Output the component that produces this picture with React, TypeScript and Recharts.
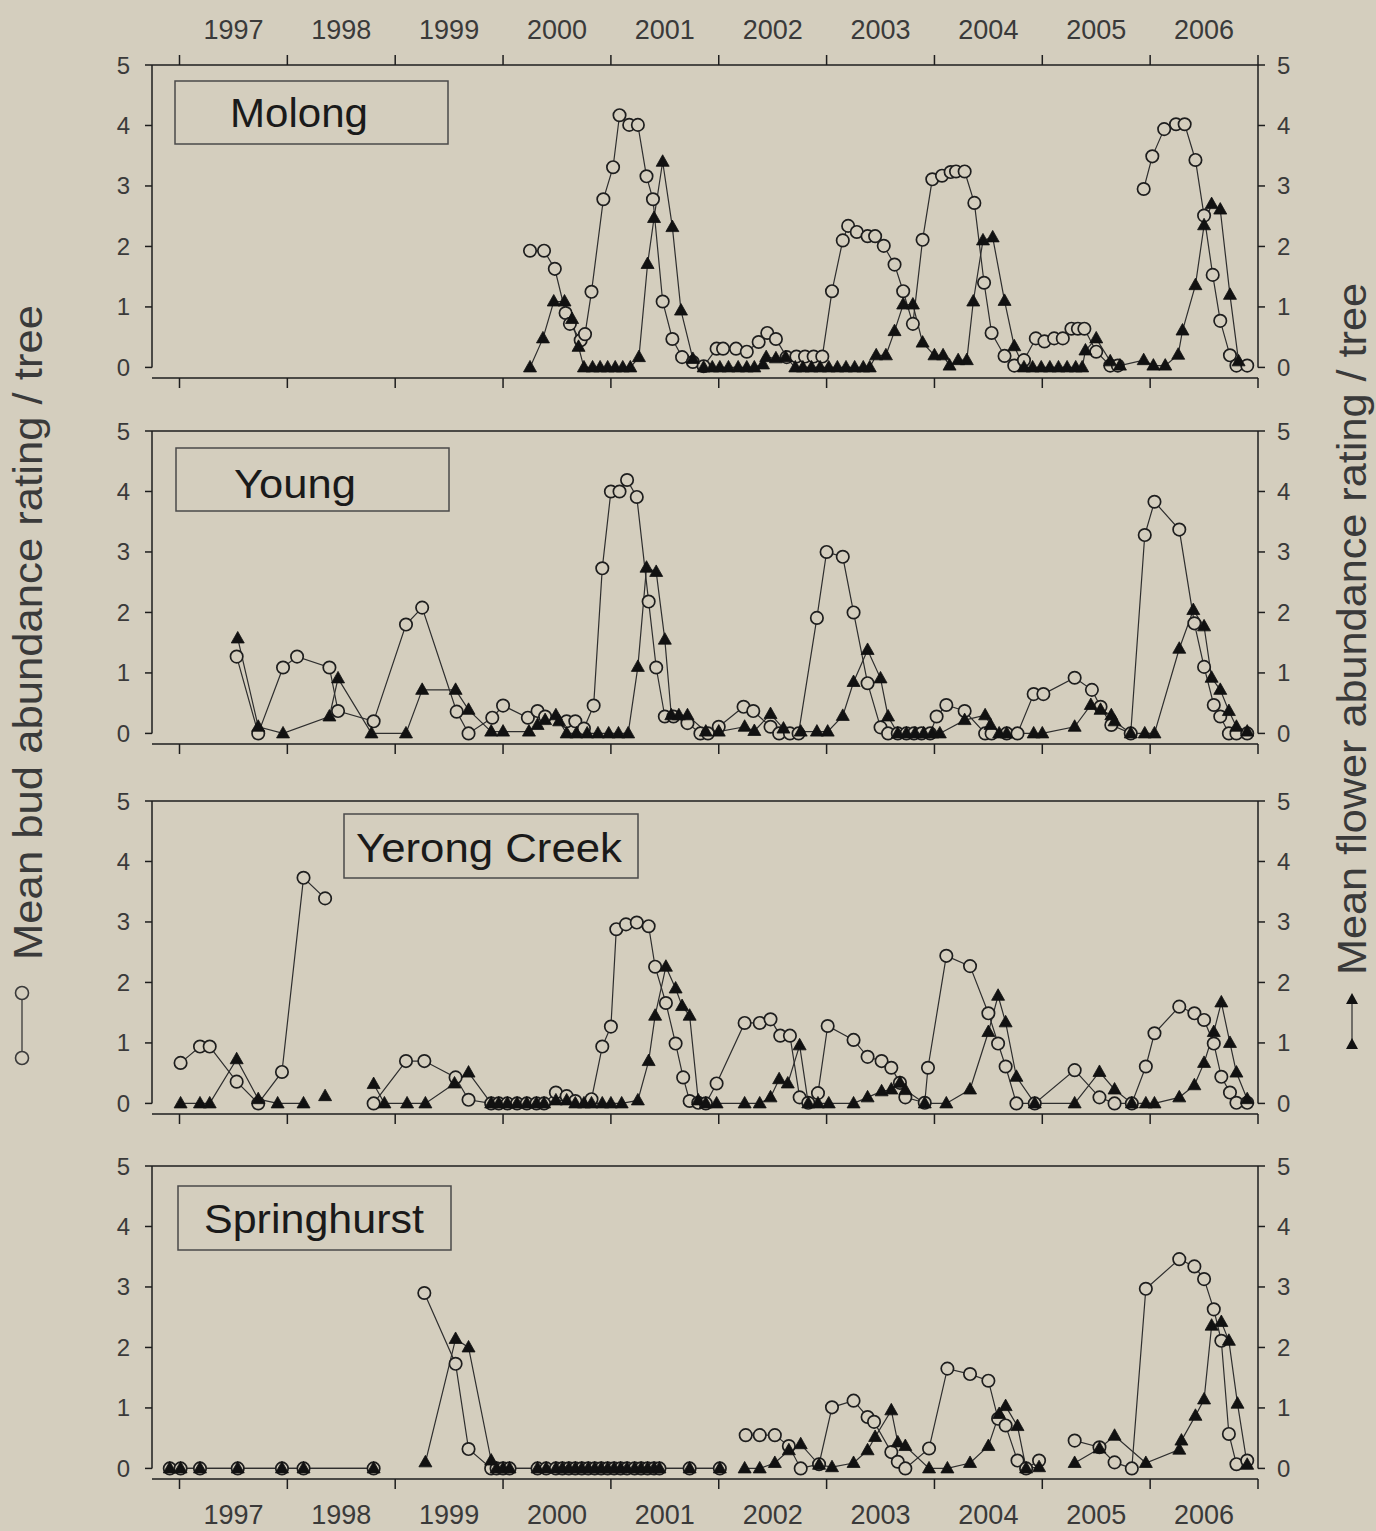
import React from 'react';
import { LineChart, Line, XAxis, YAxis, ReferenceLine } from 'recharts';

type Pt = [number, number | null];

// ---------- data (decimal year, mean rating); null = break in the line ----------
const YEAR_TICKS = [1997, 1998, 1999, 2000, 2001, 2002, 2003, 2004, 2005, 2006, 2007];
const Y_TICKS = [0, 1, 2, 3, 4, 5];
const SITE_NAMES = ['Molong', 'Young', 'Yerong Creek', 'Springhurst'];
const LEFT_TITLE = 'Mean bud abundance rating / tree';
const RIGHT_TITLE = 'Mean flower abundance rating / tree';

const molongBuds: Pt[] = [
  [2000.25, 1.93], [2000.38, 1.93], [2000.48, 1.63], [2000.58, 0.9], [2000.62, 0.72], [2000.72, 0.45], [2000.76, 0.55],
  [2000.82, 1.25], [2000.93, 2.78], [2001.02, 3.31], [2001.08, 4.17], [2001.17, 4.01], [2001.25, 4.01], [2001.33, 3.16],
  [2001.39, 2.78], [2001.48, 1.09], [2001.57, 0.47], [2001.66, 0.17], [2001.76, 0.09], [2001.86, 0.02], [2001.98, 0.31],
  [2002.04, 0.31], [2002.16, 0.31], [2002.26, 0.26], [2002.37, 0.42], [2002.45, 0.57], [2002.53, 0.47], [2002.63, 0.17],
  [2002.72, 0.18], [2002.80, 0.18], [2002.88, 0.18], [2002.96, 0.18], [2003.05, 1.26], [2003.15, 2.10], [2003.20, 2.34],
  [2003.28, 2.24], [2003.38, 2.17], [2003.45, 2.17], [2003.53, 2.01], [2003.63, 1.70], [2003.71, 1.26], [2003.80, 0.72],
  [2003.89, 2.11], [2003.98, 3.11], [2004.07, 3.17], [2004.15, 3.23], [2004.20, 3.24], [2004.28, 3.24], [2004.37, 2.72],
  [2004.46, 1.40], [2004.53, 0.57], [2004.65, 0.19], [2004.74, 0.03], [2004.83, 0.12], [2004.94, 0.48], [2005.02, 0.43],
  [2005.11, 0.48], [2005.19, 0.48], [2005.27, 0.64], [2005.33, 0.64], [2005.39, 0.64], [2005.50, 0.26], [2005.63, 0.03],
  [2005.70, 0.03], [2005.82, null], [2005.94, 2.95], [2006.02, 3.49], [2006.13, 3.94], [2006.24, 4.02], [2006.32, 4.02],
  [2006.42, 3.43], [2006.50, 2.51], [2006.58, 1.53], [2006.65, 0.77], [2006.74, 0.20], [2006.80, 0.03], [2006.90, 0.03],
];

const molongFlowers: Pt[] = [
  [2000.25, 0], [2000.37, 0.48], [2000.47, 1.09], [2000.57, 1.09], [2000.64, 0.8], [2000.70, 0.34], [2000.75, 0],
  [2000.83, 0], [2000.90, 0], [2000.97, 0], [2001.04, 0], [2001.11, 0], [2001.18, 0], [2001.26, 0.17], [2001.34, 1.71],
  [2001.40, 2.47], [2001.48, 3.40], [2001.57, 2.32], [2001.65, 0.94], [2001.76, 0.14], [2001.86, 0], [2001.94, 0],
  [2002.01, 0], [2002.09, 0], [2002.18, 0], [2002.26, 0], [2002.33, 0], [2002.41, 0.05], [2002.44, 0.17], [2002.53, 0.15],
  [2002.62, 0.17], [2002.71, 0], [2002.78, 0], [2002.86, 0], [2002.94, 0], [2003.02, 0], [2003.10, 0], [2003.18, 0],
  [2003.26, 0], [2003.34, 0], [2003.40, 0], [2003.46, 0.2], [2003.55, 0.2], [2003.63, 0.6], [2003.71, 1.04], [2003.80, 1.04],
  [2003.89, 0.41], [2004.00, 0.2], [2004.08, 0.2], [2004.14, 0.03], [2004.22, 0.12], [2004.30, 0.12], [2004.36, 1.09],
  [2004.45, 2.10], [2004.54, 2.15], [2004.65, 1.10], [2004.74, 0.35], [2004.83, 0], [2004.91, 0], [2004.99, 0], [2005.07, 0],
  [2005.15, 0], [2005.23, 0], [2005.31, 0], [2005.37, 0], [2005.40, 0.28], [2005.50, 0.48], [2005.63, 0.10], [2005.72, 0.03],
  [2005.94, 0.12], [2006.03, 0.03], [2006.14, 0.03], [2006.26, 0.21], [2006.30, 0.61], [2006.42, 1.36], [2006.50, 2.35],
  [2006.57, 2.70], [2006.65, 2.61], [2006.74, 1.20], [2006.82, 0.1],
];

const youngBuds: Pt[] = [
  [1997.53, 1.27], [1997.73, 0], [1997.96, 1.09], [1998.09, 1.27], [1998.39, 1.09], [1998.47, 0.37], [1998.80, 0.2],
  [1999.10, 1.8], [1999.25, 2.08], [1999.57, 0.36], [1999.68, 0], [1999.90, 0.26], [2000.00, 0.46], [2000.23, 0.26],
  [2000.32, 0.37], [2000.39, 0.28], [2000.59, 0.2], [2000.67, 0.2], [2000.75, 0.08], [2000.84, 0.46], [2000.92, 2.73],
  [2001.00, 4.0], [2001.08, 4.0], [2001.15, 4.19], [2001.24, 3.91], [2001.35, 2.18], [2001.42, 1.09], [2001.50, 0.28],
  [2001.58, 0.28], [2001.71, 0.17], [2001.83, 0], [2001.90, 0], [2002.00, 0.11], [2002.23, 0.44], [2002.32, 0.37],
  [2002.48, 0.11], [2002.56, 0], [2002.66, 0], [2002.74, 0], [2002.91, 1.91], [2003.00, 3.0], [2003.15, 2.92], [2003.25, 2.0],
  [2003.38, 0.83], [2003.50, 0.1], [2003.57, 0], [2003.66, 0], [2003.74, 0], [2003.81, 0], [2003.88, 0], [2003.96, 0],
  [2004.02, 0.28], [2004.11, 0.47], [2004.28, 0.37], [2004.47, 0], [2004.53, 0], [2004.67, 0], [2004.77, 0], [2004.92, 0.65],
  [2005.01, 0.65], [2005.30, 0.92], [2005.46, 0.72], [2005.54, 0.44], [2005.64, 0.14], [2005.82, 0], [2005.95, 3.28],
  [2006.04, 3.83], [2006.27, 3.37], [2006.41, 1.82], [2006.50, 1.10], [2006.59, 0.47], [2006.65, 0.28], [2006.73, 0],
  [2006.80, 0], [2006.90, 0],
];

const youngFlowers: Pt[] = [
  [1997.54, 1.57], [1997.73, 0.11], [1997.96, 0], [1998.39, 0.28], [1998.47, 0.91], [1998.78, 0], [1999.10, 0],
  [1999.25, 0.72], [1999.56, 0.72], [1999.68, 0.39], [1999.89, 0.03], [2000.00, 0.03], [2000.24, 0.03], [2000.32, 0.14],
  [2000.39, 0.22], [2000.49, 0.3], [2000.52, 0.2], [2000.59, 0], [2000.68, 0], [2000.78, 0], [2000.88, 0], [2000.98, 0],
  [2001.07, 0], [2001.16, 0], [2001.25, 1.1], [2001.33, 2.74], [2001.42, 2.67], [2001.50, 1.55], [2001.56, 0.3],
  [2001.63, 0.3], [2001.71, 0.3], [2001.88, 0.03], [2002.00, 0.03], [2002.24, 0.11], [2002.33, 0.04], [2002.48, 0.32],
  [2002.60, 0.08], [2002.76, 0.03], [2002.91, 0.03], [2003.01, 0.03], [2003.15, 0.29], [2003.25, 0.85], [2003.38, 1.38],
  [2003.50, 0.91], [2003.57, 0.28], [2003.66, 0], [2003.74, 0], [2003.82, 0], [2003.90, 0], [2003.98, 0], [2004.05, 0],
  [2004.28, 0.22], [2004.47, 0.3], [2004.52, 0.14], [2004.60, 0], [2004.67, 0], [2004.92, 0], [2005.00, 0], [2005.30, 0.11],
  [2005.45, 0.47], [2005.54, 0.39], [2005.64, 0.3], [2005.67, 0.2], [2005.82, 0], [2005.95, 0], [2006.04, 0], [2006.27, 1.4],
  [2006.40, 2.04], [2006.50, 1.77], [2006.57, 0.92], [2006.65, 0.72], [2006.73, 0.37], [2006.80, 0.11], [2006.90, 0.03],
];

const yerongBuds: Pt[] = [
  [1997.01, 0.67], [1997.19, 0.94], [1997.28, 0.94], [1997.53, 0.36], [1997.73, 0], [1997.95, 0.52], [1998.15, 3.73],
  [1998.35, 3.39], [1998.6, null], [1998.80, 0], [1999.10, 0.70], [1999.27, 0.70], [1999.56, 0.43], [1999.68, 0.06],
  [1999.89, 0], [1999.96, 0], [2000.04, 0], [2000.13, 0], [2000.22, 0], [2000.31, 0], [2000.38, 0], [2000.49, 0.18],
  [2000.59, 0.12], [2000.67, 0.04], [2000.82, 0.07], [2000.92, 0.94], [2001.00, 1.27], [2001.05, 2.88], [2001.14, 2.96],
  [2001.24, 2.99], [2001.35, 2.93], [2001.41, 2.26], [2001.51, 1.66], [2001.60, 0.99], [2001.67, 0.43], [2001.73, 0.04],
  [2001.81, 0.01], [2001.88, 0], [2001.98, 0.33], [2002.24, 1.33], [2002.38, 1.33], [2002.48, 1.39], [2002.57, 1.12],
  [2002.66, 1.12], [2002.75, 0.10], [2002.83, 0.01], [2002.92, 0.17], [2003.01, 1.28], [2003.25, 1.05], [2003.38, 0.77],
  [2003.51, 0.70], [2003.60, 0.59], [2003.68, 0.34], [2003.73, 0.10], [2003.91, 0.01], [2003.94, 0.59], [2004.11, 2.44],
  [2004.33, 2.27], [2004.50, 1.49], [2004.59, 0.99], [2004.66, 0.61], [2004.76, 0], [2004.93, 0], [2005.30, 0.55],
  [2005.53, 0.10], [2005.67, 0], [2005.83, 0], [2005.96, 0.61], [2006.04, 1.16], [2006.27, 1.60], [2006.41, 1.49],
  [2006.50, 1.38], [2006.59, 0.99], [2006.66, 0.44], [2006.74, 0.18], [2006.80, 0.01], [2006.90, 0.01],
];

const yerongFlowers: Pt[] = [
  [1997.01, 0], [1997.19, 0], [1997.28, 0], [1997.53, 0.73], [1997.73, 0.07], [1997.91, 0], [1998.15, 0], [1998.25, null],
  [1998.35, 0.12], [1998.6, null], [1998.80, 0.32], [1998.90, 0], [1999.11, 0], [1999.28, 0], [1999.55, 0.33],
  [1999.68, 0.51], [1999.89, 0], [1999.96, 0], [2000.04, 0], [2000.13, 0], [2000.22, 0], [2000.31, 0], [2000.38, 0],
  [2000.49, 0.05], [2000.59, 0.05], [2000.67, 0], [2000.75, 0], [2000.82, 0], [2000.92, 0], [2001.00, 0], [2001.10, 0],
  [2001.25, 0.05], [2001.35, 0.70], [2001.41, 1.45], [2001.51, 2.26], [2001.60, 1.90], [2001.66, 1.61], [2001.73, 1.45],
  [2001.81, 0.05], [2001.88, 0], [2001.98, 0], [2002.24, 0], [2002.38, 0], [2002.48, 0.10], [2002.56, 0.40], [2002.64, 0.33],
  [2002.75, 0.96], [2002.83, 0], [2002.92, 0], [2003.02, 0], [2003.25, 0], [2003.38, 0.10], [2003.51, 0.20], [2003.60, 0.23],
  [2003.68, 0.34], [2003.73, 0.22], [2003.91, 0], [2004.11, 0], [2004.33, 0.23], [2004.50, 1.18], [2004.59, 1.78],
  [2004.66, 1.34], [2004.76, 0.44], [2004.93, 0], [2005.30, 0], [2005.53, 0.52], [2005.67, 0.23], [2005.83, 0], [2005.96, 0],
  [2006.04, 0], [2006.27, 0.10], [2006.41, 0.30], [2006.50, 0.67], [2006.59, 1.18], [2006.66, 1.67], [2006.74, 1.00],
  [2006.80, 0.51], [2006.90, 0.07],
];

const springBuds: Pt[] = [
  [1996.91, 0], [1997.01, 0], [1997.19, 0], [1997.54, 0], [1997.95, 0], [1998.15, 0], [1998.80, 0], [1999.0, null],
  [1999.27, 2.9], [1999.56, 1.73], [1999.68, 0.32], [1999.89, 0], [1999.94, 0], [2000.00, 0], [2000.06, 0], [2000.32, 0],
  [2000.40, 0], [2000.49, 0], [2000.55, 0], [2000.61, 0], [2000.67, 0], [2000.73, 0], [2000.79, 0], [2000.85, 0],
  [2000.91, 0], [2000.97, 0], [2001.03, 0], [2001.09, 0], [2001.15, 0], [2001.22, 0], [2001.28, 0], [2001.34, 0],
  [2001.40, 0], [2001.45, 0], [2001.73, 0], [2002.01, 0], [2002.12, null], [2002.25, 0.55], [2002.38, 0.55], [2002.52, 0.55],
  [2002.65, 0.37], [2002.76, 0], [2002.93, 0.07], [2003.05, 1.01], [2003.25, 1.12], [2003.38, 0.85], [2003.44, 0.77],
  [2003.60, 0.27], [2003.66, 0.11], [2003.73, 0], [2003.95, 0.33], [2004.12, 1.65], [2004.33, 1.56], [2004.50, 1.45],
  [2004.59, 0.82], [2004.66, 0.71], [2004.77, 0.13], [2004.85, 0], [2004.97, 0.13], [2005.1, null], [2005.30, 0.46],
  [2005.53, 0.35], [2005.67, 0.10], [2005.83, 0], [2005.96, 2.97], [2006.27, 3.46], [2006.41, 3.34], [2006.50, 3.13],
  [2006.59, 2.63], [2006.66, 2.11], [2006.73, 0.57], [2006.80, 0.07], [2006.90, 0.13],
];

const springFlowers: Pt[] = [
  [1996.91, 0], [1997.01, 0], [1997.19, 0], [1997.54, 0], [1997.95, 0], [1998.15, 0], [1998.80, 0], [1999.0, null],
  [1999.28, 0.1], [1999.56, 2.14], [1999.68, 2.0], [1999.89, 0.13], [1999.94, 0], [2000.00, 0], [2000.06, 0], [2000.32, 0],
  [2000.40, 0], [2000.49, 0], [2000.55, 0], [2000.61, 0], [2000.67, 0], [2000.73, 0], [2000.79, 0], [2000.85, 0],
  [2000.91, 0], [2000.97, 0], [2001.03, 0], [2001.09, 0], [2001.15, 0], [2001.22, 0], [2001.28, 0], [2001.34, 0],
  [2001.40, 0], [2001.45, 0], [2001.73, 0], [2002.01, 0], [2002.12, null], [2002.24, 0], [2002.38, 0], [2002.52, 0.09],
  [2002.65, 0.3], [2002.76, 0.4], [2002.93, 0.06], [2003.05, 0.02], [2003.25, 0.09], [2003.38, 0.3], [2003.45, 0.52],
  [2003.60, 0.96], [2003.66, 0.43], [2003.73, 0.37], [2003.95, 0], [2004.12, 0], [2004.33, 0.09], [2004.50, 0.37],
  [2004.60, 0.9], [2004.66, 1.03], [2004.77, 0.7], [2004.85, 0], [2004.97, 0.02], [2005.1, null], [2005.30, 0.09],
  [2005.53, 0.33], [2005.67, 0.54], [2005.96, 0.09], [2006.27, 0.31], [2006.29, 0.46], [2006.42, 0.87], [2006.50, 1.14],
  [2006.57, 2.36], [2006.66, 2.42], [2006.73, 2.11], [2006.81, 1.07], [2006.90, 0.06],
];

const BUD_SERIES = [molongBuds, youngBuds, yerongBuds, springBuds];
const FLOWER_SERIES = [molongFlowers, youngFlowers, yerongFlowers, springFlowers];

// ---------- layout / style ----------
const W = 1376;
const H = 1531;
const BG = '#d4cebe';
const INK = '#1e1e1e';
const LINE = '#2e2e2e';
const TICK_COLOR = '#3a3a3a';
const FONT = '"Liberation Sans", Arial, Helvetica, sans-serif';

const XMIN = 1996.745;
const XMAX = 2007.0;
const YMIN = -0.175;
const YMAX = 5;

const PLOT_LEFT = 152;
const PLOT_RIGHT = 1258;
const PLOT_W = PLOT_RIGHT - PLOT_LEFT;
const PLOT_H = 313;
const HALF_YEAR = PLOT_W / (XMAX - XMIN) / 2;

const YAXIS_W = 60;
const XAXIS_H = 40;
const TOP_OFF = 60;
const BOTTOM_OFF = 60;
const CHART_H = TOP_OFF + PLOT_H + BOTTOM_OFF;
const PANEL_Y5 = [64.5, 431, 800.5, 1166];

const LABEL_BOXES = [
  { x: 175, y: 81, w: 273, h: 63, tx: 230, ty: 127, tl: 138 },
  { x: 176, y: 448, w: 273, h: 63, tx: 234, ty: 498, tl: 122 },
  { x: 344, y: 814, w: 294, h: 64, tx: 356, ty: 862, tl: 266 },
  { x: 178, y: 1186, w: 273, h: 64, tx: 204, ty: 1233, tl: 220 },
];

const toData = (pts: Pt[]) => pts.map(([x, y]) => ({ x, y }));

const isNum = (v: any) => typeof v === 'number' && isFinite(v);

const BudDot = (props: any) => {
  const { cx, cy, index, value } = props;
  if (!isNum(cx) || !isNum(cy) || value == null) return <g key={`b-${index}`} />;
  return <circle key={`b-${index}`} cx={cx} cy={cy} r={6.2} fill={BG} stroke={INK} strokeWidth={1.7} />;
};

const FlowerDot = (props: any) => {
  const { cx, cy, index, value } = props;
  if (!isNum(cx) || !isNum(cy) || value == null) return <g key={`f-${index}`} />;
  const d = `M${cx},${cy - 7} L${cx + 6.5},${cy + 4.5} L${cx - 6.5},${cy + 4.5} Z`;
  return <path key={`f-${index}`} d={d} fill="#111" stroke="#111" strokeWidth={0.8} />;
};

const makeYearTick = (show: boolean, pos: 'top' | 'bottom') => (props: any) => {
  const { x, y, payload } = props;
  const v = payload ? payload.value : null;
  if (!show || v == null || v >= 2007) return <g />;
  return (
    <text
      x={x + HALF_YEAR}
      y={pos === 'bottom' ? y + 33 : y - 14}
      textAnchor="middle"
      fontSize={27}
      fontFamily={FONT}
      fill={TICK_COLOR}
    >
      {v}
    </text>
  );
};

function Panel({ index }: { index: number }) {
  const isFirst = index === 0;
  const isLast = index === 3;
  const top = PANEL_Y5[index] - TOP_OFF;
  const buds = toData(BUD_SERIES[index]);
  const flowers = toData(FLOWER_SERIES[index]);
  const axisStroke = { stroke: INK, strokeWidth: 1.5 };
  return (
    <div style={{ position: 'absolute', left: 0, top, width: W, height: CHART_H }}>
      <LineChart
        width={W}
        height={CHART_H}
        margin={{
          top: isFirst ? TOP_OFF - XAXIS_H : TOP_OFF,
          right: W - PLOT_RIGHT - YAXIS_W,
          bottom: BOTTOM_OFF - XAXIS_H,
          left: PLOT_LEFT - YAXIS_W,
        }}
      >
        {isFirst && (
          <XAxis
            xAxisId="t"
            orientation="top"
            type="number"
            dataKey="x"
            domain={[XMIN, XMAX]}
            ticks={YEAR_TICKS}
            interval={0}
            allowDataOverflow
            height={XAXIS_H}
            tickSize={10}
            axisLine={axisStroke}
            tickLine={axisStroke}
            tick={makeYearTick(true, 'top')}
          />
        )}
        <XAxis
          xAxisId="b"
          orientation="bottom"
          type="number"
          dataKey="x"
          domain={[XMIN, XMAX]}
          ticks={YEAR_TICKS}
          interval={0}
          allowDataOverflow
          height={XAXIS_H}
          tickSize={10}
          axisLine={axisStroke}
          tickLine={axisStroke}
          tick={makeYearTick(isLast, 'bottom')}
        />
        <YAxis
          yAxisId="l"
          orientation="left"
          type="number"
          domain={[YMIN, YMAX]}
          ticks={Y_TICKS}
          interval={0}
          allowDataOverflow
          width={YAXIS_W}
          tickSize={7}
          tickMargin={15}
          axisLine={false}
          tickLine={axisStroke}
          tick={{ fontSize: 24, fill: TICK_COLOR, fontFamily: FONT }}
        />
        <YAxis
          yAxisId="r"
          orientation="right"
          type="number"
          domain={[YMIN, YMAX]}
          ticks={Y_TICKS}
          interval={0}
          allowDataOverflow
          width={YAXIS_W}
          tickSize={7}
          tickMargin={12}
          axisLine={false}
          tickLine={axisStroke}
          tick={{ fontSize: 24, fill: TICK_COLOR, fontFamily: FONT }}
        />
        {!isFirst && <ReferenceLine xAxisId="b" yAxisId="l" y={5} stroke={INK} strokeWidth={1.5} ifOverflow="visible" />}
        <ReferenceLine
          xAxisId="b"
          yAxisId="l"
          segment={[{ x: XMIN, y: 0 }, { x: XMIN, y: 5 }]}
          stroke={INK}
          strokeWidth={1.5}
          ifOverflow="visible"
        />
        <ReferenceLine
          xAxisId="b"
          yAxisId="r"
          segment={[{ x: XMAX, y: 0 }, { x: XMAX, y: 5 }]}
          stroke={INK}
          strokeWidth={1.5}
          ifOverflow="visible"
        />
        <Line
          xAxisId="b"
          yAxisId="l"
          data={buds}
          dataKey="y"
          type="linear"
          stroke={LINE}
          strokeWidth={1.2}
          dot={BudDot}
          activeDot={false}
          isAnimationActive={false}
          connectNulls={false}
        />
        <Line
          xAxisId="b"
          yAxisId="r"
          data={flowers}
          dataKey="y"
          type="linear"
          stroke={LINE}
          strokeWidth={1.2}
          dot={FlowerDot}
          activeDot={false}
          isAnimationActive={false}
          connectNulls={false}
        />
      </LineChart>
    </div>
  );
}

export default function App() {
  return (
    <div style={{ position: 'absolute', left: 0, top: 0, width: W, height: H, background: BG, overflow: 'hidden' }}>
      {[0, 1, 2, 3].map((i) => (
        <Panel key={i} index={i} />
      ))}
      <svg width={W} height={H} style={{ position: 'absolute', left: 0, top: 0, pointerEvents: 'none' }}>
        {LABEL_BOXES.map((b, i) => (
          <g key={i}>
            <rect x={b.x} y={b.y} width={b.w} height={b.h} fill={BG} stroke="#4a4a4a" strokeWidth={1.5} />
            <text
              x={b.tx}
              y={b.ty}
              fontSize={41}
              fontFamily={FONT}
              fill="#1a1a1a"
              textLength={b.tl}
              lengthAdjust="spacingAndGlyphs"
            >
              {SITE_NAMES[i]}
            </text>
          </g>
        ))}
        <text
          transform="translate(42,632.5) rotate(-90)"
          textAnchor="middle"
          fontSize={40}
          fontFamily={FONT}
          fill="#3a3a3a"
          textLength={655}
          lengthAdjust="spacingAndGlyphs"
        >
          {LEFT_TITLE}
        </text>
        <g>
          <line x1={22} y1={999} x2={22} y2={1052} stroke="#3a3a3a" strokeWidth={1.3} />
          <circle cx={22} cy={993} r={6.5} fill={BG} stroke="#3a3a3a" strokeWidth={1.6} />
          <circle cx={22} cy={1058} r={6.5} fill={BG} stroke="#3a3a3a" strokeWidth={1.6} />
        </g>
        <text
          transform="translate(1366,629) rotate(-90)"
          textAnchor="middle"
          fontSize={40}
          fontFamily={FONT}
          fill="#3a3a3a"
          textLength={692}
          lengthAdjust="spacingAndGlyphs"
        >
          {RIGHT_TITLE}
        </text>
        <g>
          <line x1={1352} y1={1004} x2={1352} y2={1040} stroke="#3a3a3a" strokeWidth={1.3} />
          <path d="M1352,993 L1358,1004 L1346,1004 Z" fill="#111" />
          <path d="M1352,1038 L1358,1049 L1346,1049 Z" fill="#111" />
        </g>
      </svg>
    </div>
  );
}
